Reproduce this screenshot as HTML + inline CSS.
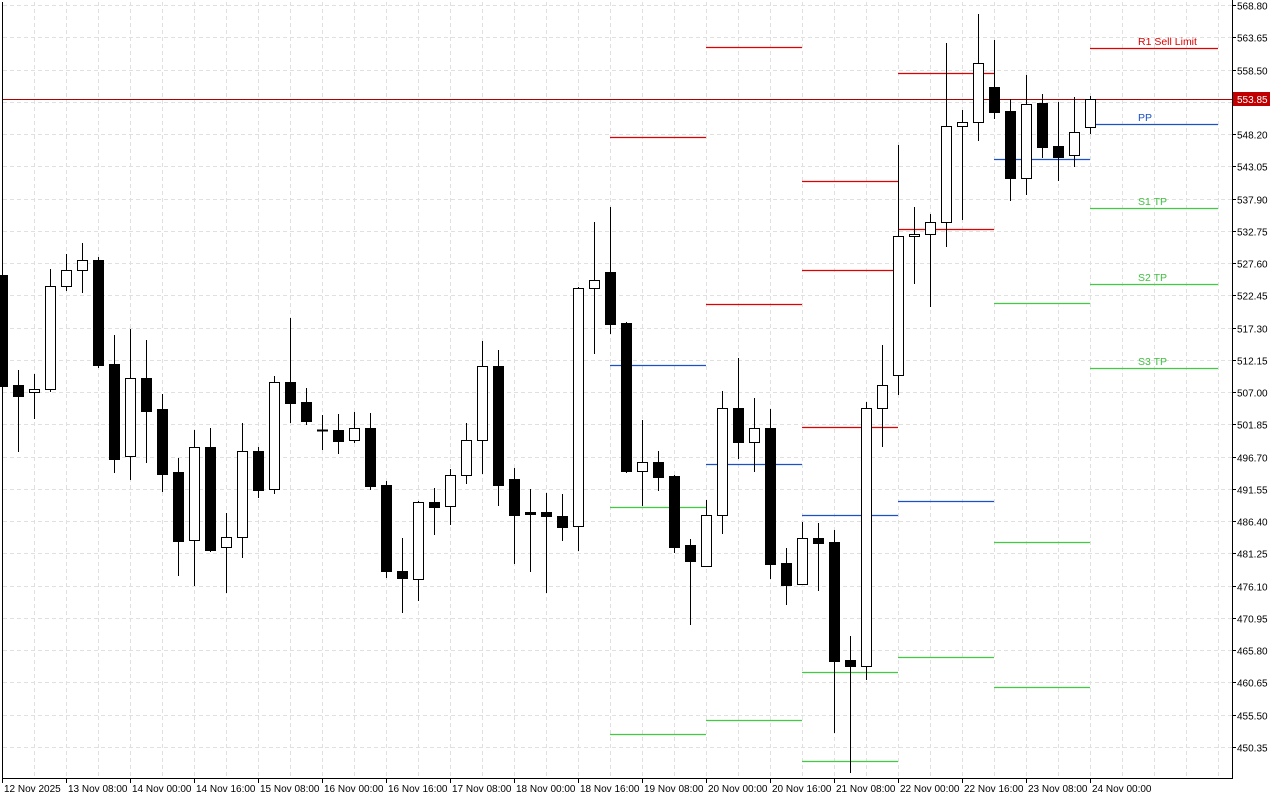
<!DOCTYPE html>
<html><head><meta charset="utf-8"><style>
html,body{margin:0;padding:0;background:#fff;}
svg{display:block;font-family:"Liberation Sans",sans-serif;}
</style></head><body>
<svg id="s" width="1280" height="800" xmlns="http://www.w3.org/2000/svg">
<rect width="1280" height="800" fill="#fff"/>
<g id="grid" stroke="#e0e0e0" stroke-width="1" stroke-dasharray="4,3"></g>
<g id="lvl" stroke-width="1.3"></g>
<line x1="2" y1="99.5" x2="1232" y2="99.5" stroke="#b00000" stroke-width="1"/>
<g id="c"></g>
<g font-size="10.5">
<text x="1138" y="45" fill="#e00000">R1 Sell Limit</text>
<text x="1138" y="121" fill="#1a50c8">PP</text>
<text x="1138" y="205" fill="#40c040">S1 TP</text>
<text x="1138" y="281" fill="#40c040">S2 TP</text>
<text x="1138" y="365" fill="#40c040">S3 TP</text>
</g>
<line x1="2.5" y1="2" x2="2.5" y2="778" stroke="#000"/>
<line x1="2" y1="778.5" x2="1232" y2="778.5" stroke="#000"/>
<line x1="1232.5" y1="0" x2="1232.5" y2="779" stroke="#000"/>
<g id="ax" font-size="10" fill="#000"></g>
<rect x="1233" y="92" width="37" height="14" fill="#c00000"/>
<text x="1237" y="103" font-size="10" fill="#fff">553.85</text>
</svg>
<script>
var NS="http://www.w3.org/2000/svg";
function el(p,t,a,txt){var e=document.createElementNS(NS,t);for(var k in a)e.setAttribute(k,a[k]);if(txt)e.textContent=txt;document.getElementById(p).appendChild(e);return e;}
var prices=["568.80","563.65","558.50","553.35","548.20","543.05","537.90","532.75","527.60","522.45","517.30","512.15","507.00","501.85","496.70","491.55","486.40","481.25","476.10","470.95","465.80","460.65","455.50","450.35"];
for(var k=0;k<prices.length;k++){var y=Math.round(5+k*32.26)+0.5;
 el("grid","line",{x1:3,y1:y,x2:1232,y2:y});
 el("ax","line",{x1:1232,y1:y,x2:1236,y2:y,stroke:"#000"});
 if(k!=3)el("ax","text",{x:1237,y:y+4},prices[k]);}
for(var x=34;x<1232;x+=32){el("grid","line",{x1:x+0.5,y1:2,x2:x+0.5,y2:778});}
var tl=["12 Nov 2025","13 Nov 08:00","14 Nov 00:00","14 Nov 16:00","15 Nov 08:00","16 Nov 00:00","16 Nov 16:00","17 Nov 08:00","18 Nov 00:00","18 Nov 16:00","19 Nov 08:00","20 Nov 00:00","20 Nov 16:00","21 Nov 08:00","22 Nov 00:00","22 Nov 16:00","23 Nov 08:00","24 Nov 00:00"];
for(var i=0;i<tl.length;i++){var x=2+64*i;
 el("ax","line",{x1:x+0.5,y1:778,x2:x+0.5,y2:783,stroke:"#000"});
 el("ax","text",{x:x+2,y:792},tl[i]);}
var R="#e00000",B="#1a50c8",G="#40cc40";
var L=[[610,706,137,R],[610,706,365,B],[610,706,507,G],[610,706,734,G],
[706,802,47,R],[706,802,304,R],[706,802,464,B],[706,802,720,G],
[802,898,181,R],[802,898,270,R],[802,898,427,R],[802,898,515,B],[802,898,672,G],[802,898,761,G],
[898,994,73,R],[898,994,229,R],[898,994,501,B],[898,994,657,G],
[994,1090,159,B],[994,1090,303,G],[994,1090,542,G],[994,1090,687,G],
[1090,1218,48,R],[1090,1218,124,B],[1090,1218,208,G],[1090,1218,284,G],[1090,1218,368,G]];
L.forEach(function(l){el("lvl","line",{x1:l[0],x2:l[1],y1:l[2]+0.5,y2:l[2]+0.5,stroke:l[3]});});
// [high, bodyTop, bodyBottom, low, black?]
var C=[[275,275,386,386,1],[370,385,396,452,1],[374,389,392,419,0],[269,286,389,392,0],[254,270,286,291,0],[243,260,270,293,0],[257,260,365,368,1],
[335,364,459,473,1],[329,378,456,480,0],[340,378,411,463,1],[394,409,474,492,1],[458,472,541,576,1],[430,447,540,586,0],[428,447,550,552,1],[513,537,547,593,0],
[423,451,537,558,0],[447,451,490,498,1],[376,382,489,494,0],[318,382,403,423,1],[388,402,421,425,1],[415,430,430,450,1],[414,430,441,454,1],[412,428,440,443,0],
[413,428,486,490,1],[481,485,571,578,1],[538,571,578,613,1],[501,502,579,601,0],[488,502,507,535,1],[469,475,506,525,0],[423,440,475,484,0],[341,366,440,474,0],
[350,366,485,506,1],[468,479,515,564,1],[489,512,514,572,1],[493,512,516,593,1],[494,516,527,541,1],[287,288,526,551,0],[222,280,288,354,0],[207,272,324,334,1],
[322,323,471,473,1],[420,462,471,506,0],[451,462,477,491,1],[475,476,547,553,1],[539,545,561,625,1],[500,515,566,566,0],[391,408,515,534,0],[358,408,442,459,1],
[398,428,442,472,0],[409,428,564,579,1],[548,563,585,605,1],[522,538,584,585,0],[523,538,543,591,1],[530,542,661,733,1],[636,660,666,773,1],[402,408,666,680,0],
[345,385,408,447,0],[145,236,375,395,0],[207,234,236,284,0],[214,222,234,307,0],[43,126,222,247,0],[110,122,126,220,0],[14,63,122,141,0],[40,87,112,119,1],
[99,111,178,201,1],[75,104,178,195,0],[94,103,147,158,1],[102,146,157,181,1],[97,132,155,167,0],[96,99,127,134,0]];
C.forEach(function(c,i){var x=2+16*i+0.5;
 el("c","line",{x1:x,x2:x,y1:c[0],y2:c[3],stroke:"#000"});
 var h=Math.max(c[2]-c[1],1);
 if(c[2]-c[1]<2){el("c","rect",{x:x-5.5,y:c[1]-0.5,width:11,height:2,fill:"#000"});}
 else el("c","rect",{x:x-5,y:c[1]+0.5,width:10,height:h,fill:c[4]?"#000":"#fff",stroke:"#000","stroke-width":1});
});
</script>
</body></html>
